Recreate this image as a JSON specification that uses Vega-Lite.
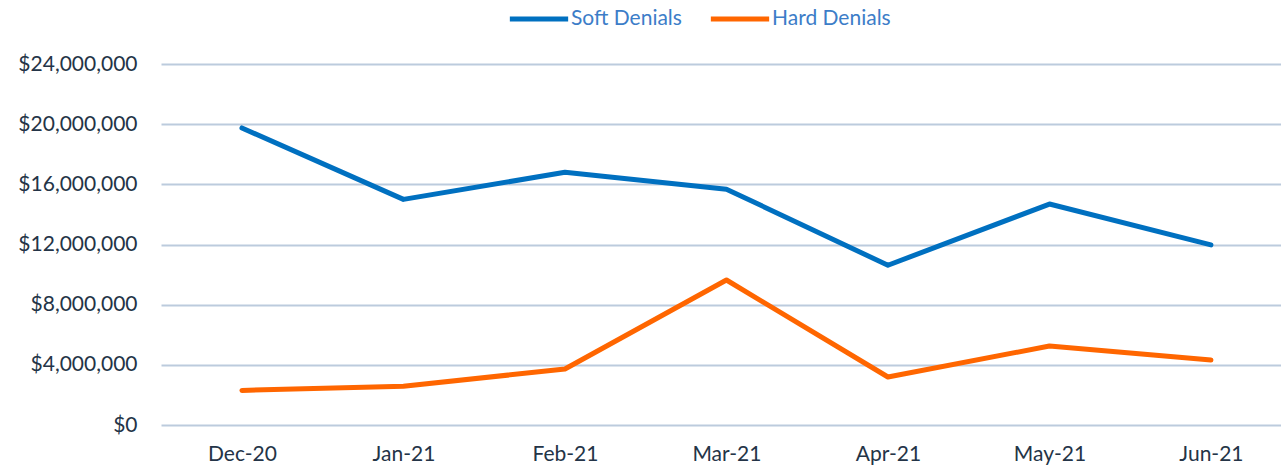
{
  "$schema": "https://vega.github.io/schema/vega-lite/v6.json",
  "autosize": "none",
  "width": 1120,
  "height": 361,
  "padding": {"left": 161, "top": 64, "right": 0, "bottom": 43},
  "background": "white",
  "config": {
    "view": {"stroke": null},
    "font": "Lato",
    "axis": {"labelFont": "Lato", "labelFontSize": 21, "labelColor": "#243447"}
  },
  "data": {
    "values": [
      {"month": "Dec-20", "series": "Soft Denials", "value": 19750000},
      {"month": "Jan-21", "series": "Soft Denials", "value": 15000000},
      {"month": "Feb-21", "series": "Soft Denials", "value": 16800000},
      {"month": "Mar-21", "series": "Soft Denials", "value": 15680000},
      {"month": "Apr-21", "series": "Soft Denials", "value": 10620000},
      {"month": "May-21", "series": "Soft Denials", "value": 14690000},
      {"month": "Jun-21", "series": "Soft Denials", "value": 11970000},
      {"month": "Dec-20", "series": "Hard Denials", "value": 2300000},
      {"month": "Jan-21", "series": "Hard Denials", "value": 2580000},
      {"month": "Feb-21", "series": "Hard Denials", "value": 3720000},
      {"month": "Mar-21", "series": "Hard Denials", "value": 9640000},
      {"month": "Apr-21", "series": "Hard Denials", "value": 3190000},
      {"month": "May-21", "series": "Hard Denials", "value": 5250000},
      {"month": "Jun-21", "series": "Hard Denials", "value": 4320000}
    ]
  },
  "mark": {"type": "line", "strokeWidth": 5, "strokeCap": "round", "strokeJoin": "round"},
  "encoding": {
    "x": {
      "field": "month",
      "type": "ordinal",
      "sort": null,
      "scale": {"type": "point", "padding": 0.4675, "align": 0.536},
      "axis": {"title": null, "labelAngle": 0, "domain": false, "ticks": false, "labelPadding": 18, "grid": false}
    },
    "y": {
      "field": "value",
      "type": "quantitative",
      "scale": {"domain": [0, 24000000], "nice": false},
      "axis": {
        "title": null,
        "values": [0, 4000000, 8000000, 12000000, 16000000, 20000000, 24000000],
        "format": "$,.0f",
        "domain": false,
        "ticks": false,
        "labelPadding": 24,
        "gridColor": "#BCCBDD",
        "gridWidth": 2
      }
    },
    "color": {
      "field": "series",
      "type": "nominal",
      "sort": null,
      "scale": {"domain": ["Soft Denials", "Hard Denials"], "range": ["#0070C0", "#FF6600"]},
      "legend": {
        "title": null,
        "orient": "none",
        "legendX": 346,
        "legendY": -77,
        "direction": "horizontal",
        "symbolType": "stroke",
        "symbolSize": 3400,
        "symbolStrokeWidth": 5,
        "labelFont": "Lato",
        "labelFontSize": 21,
        "labelColor": "#3C7DC8",
        "labelOffset": 0,
        "columnPadding": 18
      }
    }
  }
}
